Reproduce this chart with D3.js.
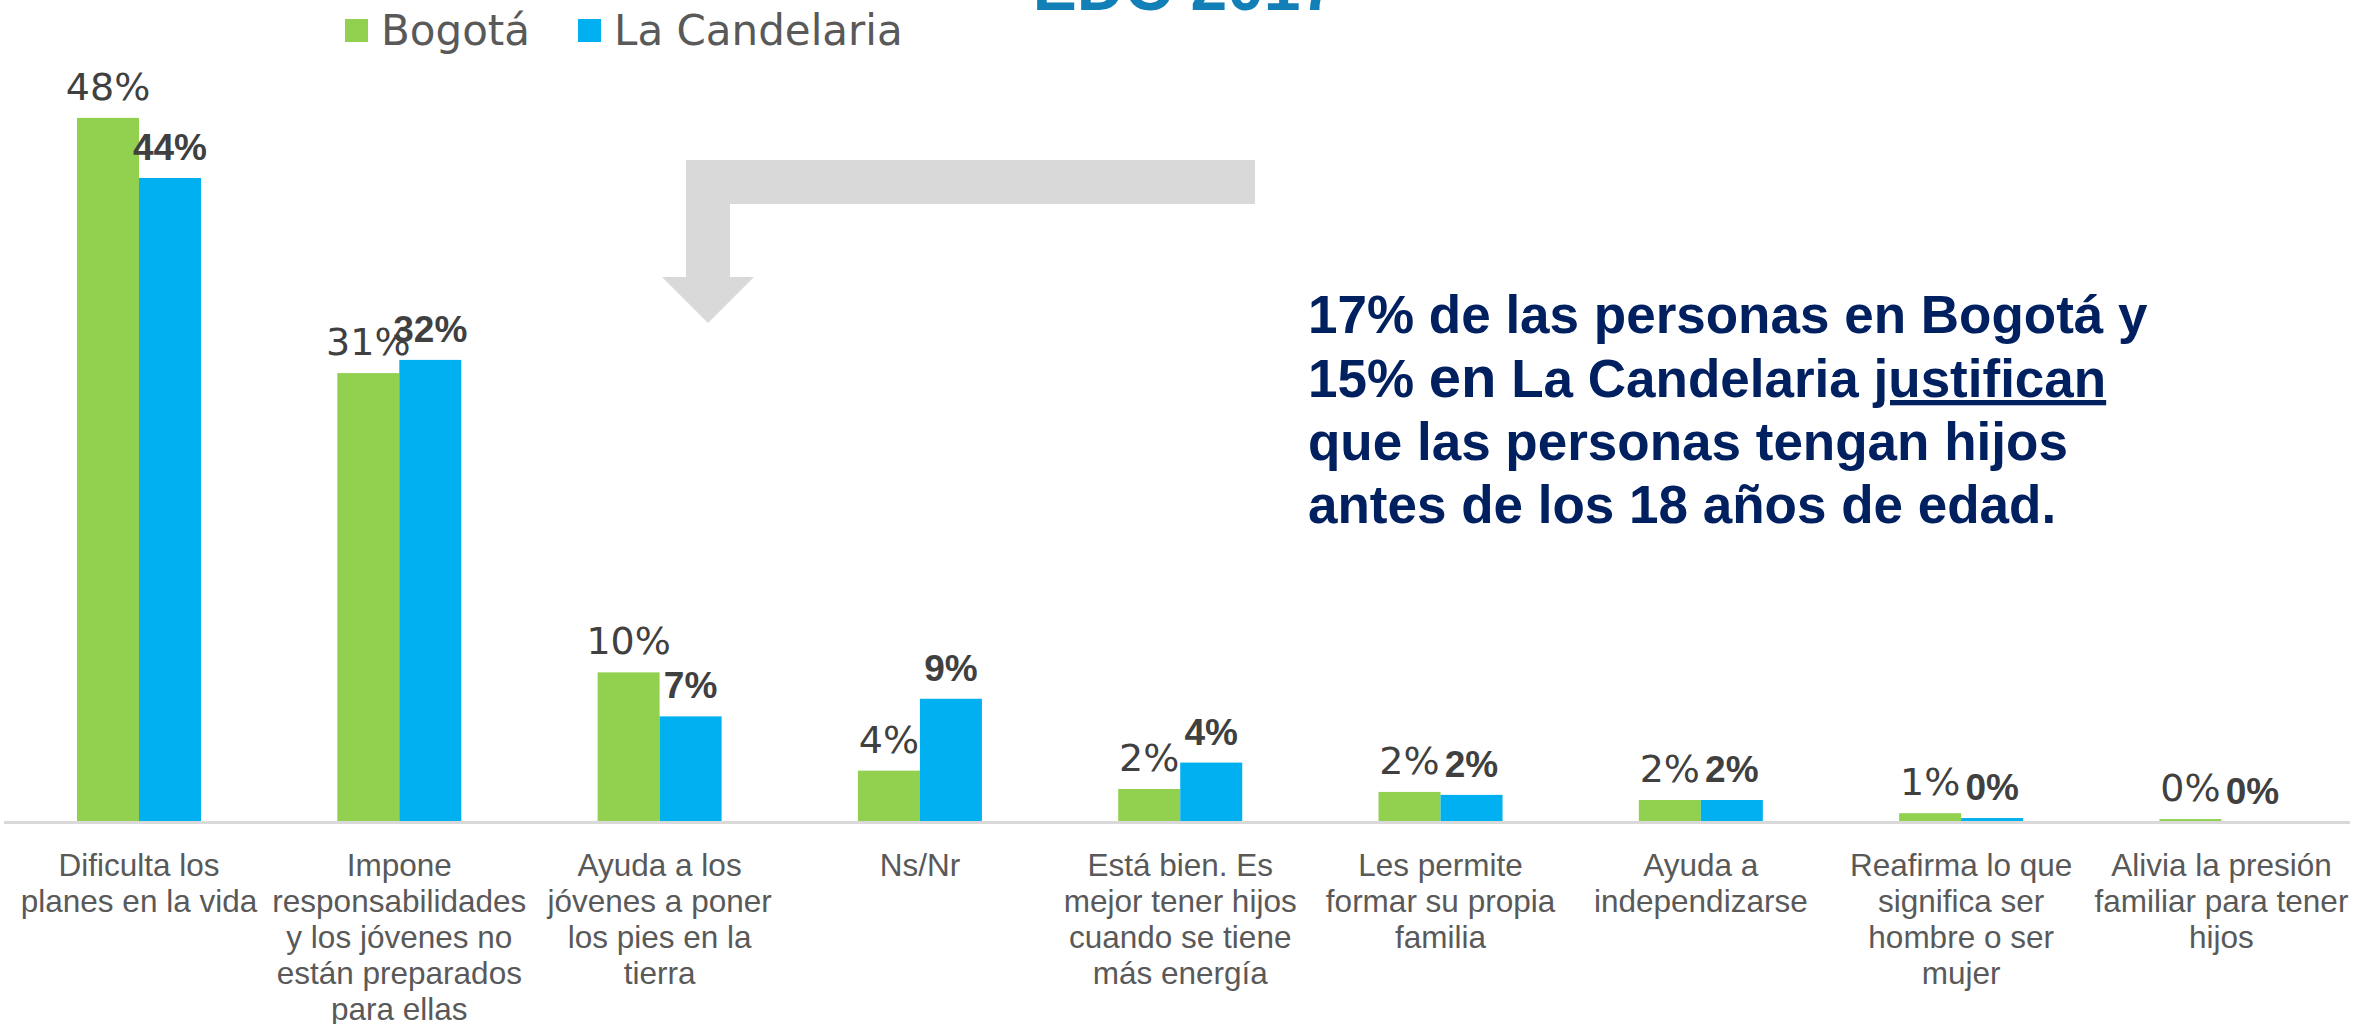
<!DOCTYPE html>
<html>
<head>
<meta charset="utf-8">
<script src="https://cdn.jsdelivr.net/npm/d3@7"></script>
<style>
  body { margin: 0; background: #fff; }
  svg { display: block; }
</style>
</head>
<body>
<div id="chart"></div>
<script>
// data
var categories = [
    "Dificulta los planes en la vida",
    "Impone responsabilidades y los jóvenes no están preparados para ellas",
    "Ayuda a los jóvenes a poner los pies en la tierra",
    "Ns/Nr",
    "Está bien. Es mejor tener hijos cuando se tiene más energía",
    "Les permite formar su propia familia",
    "Ayuda a independizarse",
    "Reafirma lo que significa ser hombre o ser mujer",
    "Alivia la presión familiar para tener hijos"
];
var categoryLines = [
    ["Dificulta los", "planes en la vida"],
    ["Impone", "responsabilidades", "y los jóvenes no", "están preparados", "para ellas"],
    ["Ayuda a los", "jóvenes a poner", "los pies en la", "tierra"],
    ["Ns/Nr"],
    ["Está bien. Es", "mejor tener hijos", "cuando se tiene", "más energía"],
    ["Les permite", "formar su propia", "familia"],
    ["Ayuda a", "independizarse"],
    ["Reafirma lo que", "significa ser", "hombre o ser", "mujer"],
    ["Alivia la presión", "familiar para tener", "hijos"]
];
var series = ["Bogotá", "La Candelaria"];
var bogota = [48.0, 30.6, 10.2, 3.5, 2.25, 2.05, 1.5, 0.6, 0.2];
var candelaria = [43.9, 31.5, 7.2, 8.4, 4.05, 1.85, 1.5, 0.27, 0];
var bogotaLabels = ["48%", "31%", "10%", "4%", "2%", "2%", "2%", "1%", "0%"];
var candelariaLabels = ["44%", "32%", "7%", "9%", "4%", "2%", "2%", "0%", "0%"];
var colors = ["#92D050", "#00B0F0"];

var svgWidth = 2356;
var svgHeight = 1024;

var svg = d3.select("#chart")
    .append("svg")
    .attr("width", svgWidth)
    .attr("height", svgHeight);

svg.append("rect")
    .attr("width", svgWidth)
    .attr("height", svgHeight)
    .attr("fill", "#fff");

// scales
var x0 = d3.scaleBand()
    .domain(categories)
    .range([8.85, 2351.6])
    .paddingInner(0.5236)
    .paddingOuter(0.2618);

var x1 = d3.scaleBand()
    .domain(series)
    .range([0, x0.bandwidth()]);

var y = d3.scaleLinear()
    .domain([0, 50])
    .range([822, 88.5]);

var rows = categories.map(function (c, i) {
    return {
        cat: c,
        vals: [
            {s: series[0], v: bogota[i], label: bogotaLabels[i]},
            {s: series[1], v: candelaria[i], label: candelariaLabels[i]}
        ]
    };
});

// title, cut off at the top like the source slide
svg.append("text")
    .attr("x", 1185)
    .attr("y", 10)
    .attr("text-anchor", "middle")
    .style("font-family", "Liberation Sans, Arial, sans-serif")
    .style("font-weight", "bold")
    .style("font-size", "66px")
    .style("fill", "#127fb6")
    .text("EDC 2017");

// grey bent arrow
svg.append("path")
    .attr("d", "M1255,160 L686,160 L686,277 L662,277 L708,323 L754,277 L730,277 L730,204 L1255,204 Z")
    .attr("fill", "#d9d9d9");

// bars
var groups = svg.selectAll(".group")
    .data(rows)
    .enter()
    .append("g")
    .attr("class", "group")
    .attr("transform", function (d) { return "translate(" + x0(d.cat) + ",0)"; });

groups.selectAll("rect")
    .data(function (d) { return d.vals; })
    .enter()
    .append("rect")
    .attr("x", function (d) { return x1(d.s); })
    .attr("y", function (d) { return y(d.v); })
    .attr("width", x1.bandwidth())
    .attr("height", function (d) { return y(0) - y(d.v); })
    .attr("fill", function (d, i) { return colors[i]; });

// value labels
groups.selectAll(".val")
    .data(function (d) { return d.vals; })
    .enter()
    .append("text")
    .attr("class", "val")
    .attr("x", function (d) { return x1(d.s) + x1.bandwidth() / 2; })
    .attr("y", function (d) { return y(d.v) - 18; })
    .attr("text-anchor", "middle")
    .style("font-family", function (d, i) { return i === 0 ? "DejaVu Sans, Verdana, sans-serif" : "Liberation Sans, Arial, sans-serif"; })
    .style("font-weight", function (d, i) { return i === 0 ? "normal" : "bold"; })
    .style("font-size", function (d, i) { return i === 0 ? "38px" : "37px"; })
    .style("fill", "#404040")
    .text(function (d) { return d.label; });

// x axis
var xAxis = svg.append("g")
    .attr("transform", "translate(0," + y(0) + ")")
    .call(d3.axisBottom(x0).tickSize(0).tickSizeOuter(0));

xAxis.select(".domain")
    .attr("stroke", "#d9d9d9")
    .attr("stroke-width", 3)
    .attr("d", "M4,0.5H2350");

xAxis.selectAll(".tick text").each(function (d, i) {
    var t = d3.select(this);
    t.text(null)
        .attr("y", 54)
        .attr("dy", null)
        .style("font-family", "Liberation Sans, Arial, sans-serif")
        .style("font-size", "31.5px")
        .attr("fill", "#595959");
    categoryLines[i].forEach(function (line, j) {
        t.append("tspan")
            .attr("x", 0)
            .attr("y", 54 + j * 36)
            .text(line);
    });
});

// legend
var legend = svg.append("g");
var legendX = [345, 578];
series.forEach(function (s, i) {
    legend.append("rect")
        .attr("x", legendX[i])
        .attr("y", 19)
        .attr("width", 23)
        .attr("height", 23)
        .attr("fill", colors[i]);
    legend.append("text")
        .attr("x", legendX[i] + 36)
        .attr("y", 45)
        .style("font-family", "DejaVu Sans, Verdana, sans-serif")
        .style("font-size", "42px")
        .style("fill", "#595959")
        .text(s);
});

// annotation
var note = svg.append("text")
    .attr("x", 1308)
    .attr("y", 333)
    .style("font-family", "Liberation Sans, Arial, sans-serif")
    .style("font-weight", "bold")
    .style("font-size", "53px")
    .style("fill", "#002060");

note.append("tspan").attr("x", 1308).attr("y", 333)
    .text("17% de las personas en Bogotá y");
var l2 = note.append("tspan").attr("x", 1308).attr("y", 397);
l2.append("tspan").text("15% ");
l2.append("tspan").style("font-size", "58px").text("en");
l2.append("tspan").text(" La Candelaria ");
l2.append("tspan").style("text-decoration", "underline").text("justifican");
note.append("tspan").attr("x", 1308).attr("y", 460)
    .text("que las personas tengan hijos");
note.append("tspan").attr("x", 1308).attr("y", 523)
    .text("antes de los 18 años de edad.");
</script>
</body>
</html>
